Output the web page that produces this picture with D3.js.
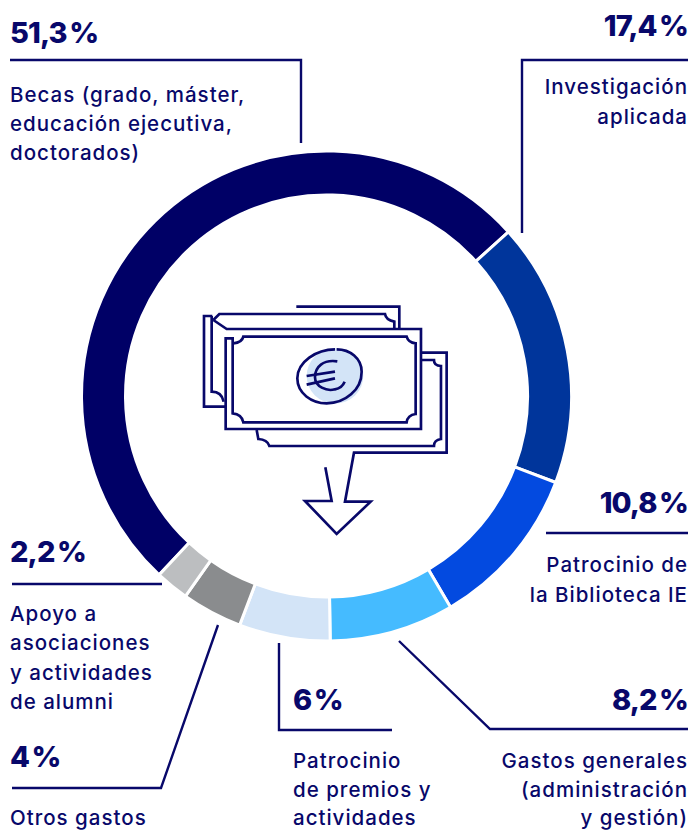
<!DOCTYPE html>
<html lang="es">

<head>
    <meta charset="UTF-8">
    <title>Destino de los fondos</title>
    <script src="https://cdn.jsdelivr.net/npm/d3@7"></script>
    <style>
        html, body {
            margin: 0;
            padding: 0;
            background: white;
        }

        svg {
            display: block;
        }

        text {
            font-family: 'Inter', sans-serif;
            fill: #08086a;
        }

        .pct {
            font-size: 29px;
            font-weight: 800;
            letter-spacing: -0.9px;
            word-spacing: -3px;
        }

        .desc {
            font-size: 20.5px;
            font-weight: 500;
            letter-spacing: 1px;
        }

        .leader, .icon path {
            fill: none;
            stroke: #08086a;
        }

        .leader {
            stroke-width: 2.4px;
        }
    </style>
</head>

<body>
    <div id="chart"></div>

    <script>
        // Values as printed next to the ring (clockwise from the navy slice)
        const categories = ["Becas", "Investigación aplicada", "Patrocinio de la Biblioteca IE", "Gastos generales",
            "Patrocinio de premios y actividades", "Otros gastos", "Apoyo a asociaciones y actividades de alumni"];
        const shares = [51.3, 17.4, 10.8, 8.2, 6, 4, 2.2];
        const shareLabels = ["51,3 %", "17,4 %", "10,8 %", "8,2 %", "6 %", "4 %", "2,2 %"];
        const descriptions = [
            ["Becas (grado, máster,", "educación ejecutiva,", "doctorados)"],
            ["Investigación", "aplicada"],
            ["Patrocinio de", "la Biblioteca IE"],
            ["Gastos generales", "(administración", "y gestión)"],
            ["Patrocinio", "de premios y", "actividades"],
            ["Otros gastos"],
            ["Apoyo a", "asociaciones", "y actividades", "de alumni"]
        ];
        const ringColors = ["#000066", "#00359b", "#034ae0", "#45bbff", "#d3e4f7", "#8a8c8e", "#bcbec0"];

        const width = 692;
        const height = 830;

        const svg = d3.select("#chart").append("svg")
            .attr("width", width)
            .attr("height", height);

        /*------------------- Ring --------------------*/
        const startAngle = 223.1 * Math.PI / 180;
        const pie = d3.pie().sort(null)
            .startAngle(startAngle)
            .endAngle(startAngle + 2 * Math.PI);
        const arc = d3.arc().innerRadius(201).outerRadius(245);

        svg.append("g")
            .attr("transform", "translate(326.5,396)")
            .selectAll("path")
            .data(pie(shares))
            .enter().append("path")
            .attr("d", arc)
            .attr("fill", (d, i) => ringColors[i])
            .attr("stroke", "white")
            .attr("stroke-width", 3)
            .append("title")
            .text((d, i) => categories[i]);

        /*------------------- Labels --------------------*/
        // one entry per slice: text anchor, x, baseline of the percentage, baseline of each line, leader line
        const labelLayout = [
            { anchor: "start", x: 10, pctY: 43, lineY: [102, 131, 160], leader: [[10, 60], [301, 60], [301, 143]] },
            { anchor: "end", x: 688, pctY: 36, lineY: [94, 124], leader: [[688, 60], [522, 60], [522, 233]] },
            { anchor: "end", x: 688, pctY: 513, lineY: [572, 602], leader: [[546, 533], [688, 533]] },
            { anchor: "end", x: 688, pctY: 710, lineY: [768, 797, 825], leader: [[399, 641], [490, 729], [688, 729]] },
            { anchor: "start", x: 293, pctY: 710, lineY: [768, 797, 825], leader: [[279, 643], [279, 730], [392, 730]] },
            { anchor: "start", x: 10, pctY: 767, lineY: [825], leader: [[218, 625], [161, 788], [12, 788]] },
            { anchor: "start", x: 10, pctY: 562, lineY: [621, 650, 680, 709], leader: [[12, 584], [162, 584]] }
        ];

        const line = d3.line();

        labelLayout.forEach((l, i) => {
            svg.append("path").attr("class", "leader").attr("d", line(l.leader));
            svg.append("text").attr("class", "pct")
                .attr("x", l.x).attr("y", l.pctY)
                .attr("text-anchor", l.anchor)
                .text(shareLabels[i]);
            descriptions[i].forEach((t, j) => {
                svg.append("text").attr("class", "desc")
                    .attr("x", l.x).attr("y", l.lineY[j])
                    .attr("text-anchor", l.anchor)
                    .text(t);
            });
        });

        /*------------------- Banknote icon --------------------*/
        // drawn at 3x
        const icon = svg.append("g").attr("class", "icon")
            .attr("transform", "translate(180,290) scale(0.3333)")
            .attr("stroke-width", 8);

        icon.append("ellipse")
            .attr("cx", 465).attr("cy", 258).attr("rx", 85).attr("ry", 83)
            .attr("fill", "#d3e4f7");

        const iconPaths = [
            "M349,50 H658 V115",
            "M100,90 L118,72 H615 Q618,90 643,95 V115",
            "M97,78 H72 V350 H135 M95,78 V305 Q125,305 131,335",
            "M100,90 L140,117 H723 V417 H137 V145 H158 V370 Q185,372 190,397 H680 Q683,375 707,372 V160 Q685,158 680,140 H190 Q186,158 160,160",
            "M230,420 L235,447 Q262,448 268,468 H762 Q762,450 783,447 V228 Q762,228 762,210 H725",
            "M725,188 H800 V488 H522 L495,635 H572 L470,732 L375,633 H455 L436,532",
            "M465,178 C410,178 352,215 352,265 C352,310 395,340 440,340 C495,340 545,300 545,245 C545,205 510,178 470,178",
            "M472,214 C430,208 405,230 405,262 C405,290 440,305 465,298 C480,295 490,285 494,275",
            "M380,258 L465,245",
            "M380,284 L465,265"
        ];

        icon.selectAll("path")
            .data(iconPaths)
            .enter().append("path")
            .attr("d", d => d)
            .attr("stroke-linejoin", "miter");
    </script>
</body>

</html>
